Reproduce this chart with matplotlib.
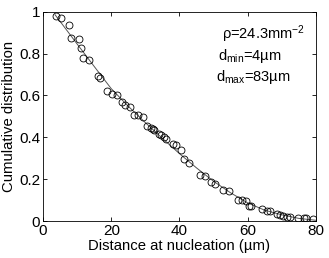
import matplotlib
matplotlib.use("Agg")
import matplotlib.pyplot as plt

plt.rcParams['font.family'] = ['Liberation Sans', 'DejaVu Sans']
plt.rcParams['mathtext.fontset'] = 'custom'
plt.rcParams['mathtext.rm'] = 'Liberation Sans'
plt.rcParams['mathtext.it'] = 'Liberation Sans'
plt.rcParams['mathtext.default'] = 'regular'

# measured points (distance in um, cumulative distribution)
dist = [3.8, 5.2, 7.6, 8.3, 10.6, 11.1, 11.8, 13.4, 16.0, 16.6,
        18.8, 20.3, 21.8, 23.0, 24.0, 25.5, 26.7, 27.9, 29.2, 30.6,
        31.6, 32.1, 32.6, 34.1, 34.6, 35.5, 36.0, 38.0, 39.0, 40.5,
        41.4, 42.9, 45.9, 47.6, 49.3, 50.3, 52.8, 54.6, 57.2, 58.4,
        59.5, 60.5, 61.0, 64.1, 65.6, 66.6, 68.5, 69.5, 70.5, 71.5,
        72.4, 74.9, 76.4, 77.1, 79.2]
cum = [0.980, 0.968, 0.937, 0.873, 0.868, 0.825, 0.778, 0.767, 0.694, 0.684,
       0.620, 0.608, 0.603, 0.568, 0.555, 0.546, 0.508, 0.505, 0.497, 0.452,
       0.444, 0.441, 0.433, 0.418, 0.410, 0.400, 0.390, 0.367, 0.362, 0.338,
       0.298, 0.278, 0.222, 0.216, 0.187, 0.175, 0.148, 0.144, 0.100, 0.100,
       0.095, 0.071, 0.070, 0.056, 0.049, 0.046, 0.032, 0.030, 0.024, 0.020,
       0.020, 0.016, 0.013, 0.013, 0.010]

# fitted curve
fit_x = [3.5, 5, 10, 15, 20, 25, 30, 35, 40, 45, 50, 55, 60, 65, 70, 75, 80]
fit_y = [0.985, 0.953, 0.845, 0.738, 0.632, 0.548, 0.470, 0.395, 0.322,
         0.254, 0.190, 0.135, 0.087, 0.052, 0.030, 0.013, 0.004]

fig = plt.figure(figsize=(3.29, 2.58), dpi=100)
ax = fig.add_axes([0.131, 0.143, 0.829, 0.812])

ax.plot(fit_x, fit_y, color='#555555', lw=0.7)
ax.plot(dist, cum, 'o', mfc='none', mec='black', ms=5, mew=0.6)

ax.set_xlim(0, 80)
ax.set_ylim(0, 1)
ax.set_xticks([0, 20, 40, 60, 80])
ax.set_yticks([0, 0.2, 0.4, 0.6, 0.8, 1])
ax.set_yticklabels(['0', '0.2', '0.4', '0.6', '0.8', '1'])
ax.tick_params(direction='in', top=True, right=True, labelsize=11, length=3, width=0.6, pad=2)
for s in ax.spines.values():
    s.set_linewidth(0.6)

ax.set_xlabel('Distance at nucleation (µm)', fontsize=10.7, labelpad=1)
ax.set_ylabel('Cumulative distribution', fontsize=10.7, labelpad=2)

ax.text(0.655, 0.87, r'$\rho$=24.3mm$^{-2}$', transform=ax.transAxes, fontsize=10.5)
ax.text(0.64, 0.77, r'd$_{min}$=4µm', transform=ax.transAxes, fontsize=10.5)
ax.text(0.633, 0.67, r'd$_{max}$=83µm', transform=ax.transAxes, fontsize=10.5)

fig.savefig('out.png', dpi=100)
